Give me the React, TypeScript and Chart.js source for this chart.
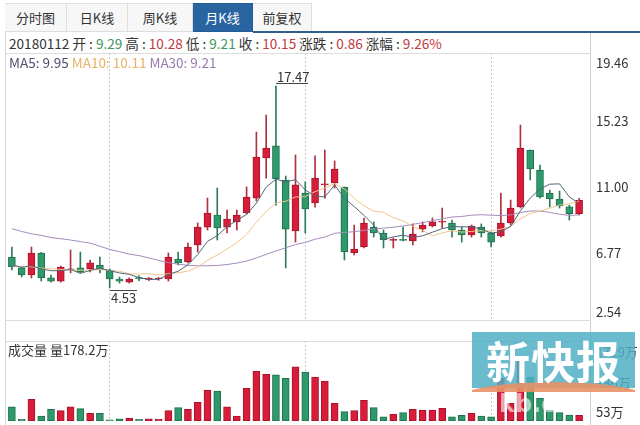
import React, { useEffect, useRef } from 'react';
import { Chart, registerables } from 'chart.js';

Chart.register(...registerables);

const FONT = '"Noto Sans CJK SC", "Noto Sans", sans-serif';

const months = [
  '2013-03', '2013-04', '2013-05', '2013-06', '2013-07', '2013-08', '2013-09', '2013-10', '2013-11', '2013-12',
  '2014-01', '2014-02', '2014-03', '2014-04', '2014-05', '2014-06', '2014-07', '2014-08', '2014-09', '2014-10', '2014-11', '2014-12',
  '2015-01', '2015-02', '2015-03', '2015-04', '2015-05', '2015-06', '2015-07', '2015-08', '2015-09', '2015-10', '2015-11', '2015-12',
  '2016-01', '2016-02', '2016-03', '2016-04', '2016-05', '2016-06', '2016-07', '2016-08', '2016-09', '2016-10', '2016-11', '2016-12',
  '2017-01', '2017-02', '2017-03', '2017-04', '2017-05', '2017-06', '2017-07', '2017-08', '2017-09', '2017-10', '2017-11', '2017-12',
  '2018-01',
];

const opens = [
  6.51, 5.81, 5.36, 6.77, 5.17, 4.97, 5.68, 5.81, 5.75, 6.0,
  5.68, 5.1, 4.9, 5.2, 5.08, 5.1, 5.1, 6.38, 6.2, 7.28,
  8.43, 9.2, 8.43, 8.76, 9.33, 10.29, 12.86, 13.63, 11.45, 8.18,
  10.61, 9.97, 11.13, 11.26, 11.0, 6.77, 7.15, 8.43, 8.05, 7.58,
  7.62, 7.54, 8.3, 8.5, 8.74, 8.69, 8.24, 7.92, 8.43, 8.05,
  7.86, 8.69, 9.72, 13.37, 12.09, 10.61, 10.23, 9.72, 9.29,
];
const highs = [
  7.15, 5.87, 7.15, 6.8, 5.36, 5.93, 6.96, 6.83, 6.32, 6.51,
  5.75, 5.23, 5.17, 5.3, 5.2, 5.2, 6.77, 6.83, 7.41, 8.69,
  10.29, 10.93, 9.52, 9.52, 11.0, 14.52, 15.61, 17.47, 11.7, 13.05,
  11.32, 12.99, 13.37, 12.67, 11.0, 8.56, 9.01, 8.76, 8.24, 7.73,
  8.43, 8.63, 8.76, 9.01, 9.65, 8.88, 8.43, 8.56, 8.63, 8.12,
  10.61, 10.16, 14.97, 13.37, 12.41, 10.8, 10.74, 9.84, 10.28,
];
const lows = [
  5.68, 5.23, 5.17, 4.97, 4.9, 4.9, 5.49, 5.49, 5.55, 5.49,
  4.53, 4.84, 4.84, 5.0, 5.0, 5.02, 4.97, 6.0, 6.13, 6.83,
  8.24, 7.6, 8.05, 8.24, 9.27, 10.1, 11.57, 9.84, 5.81, 7.47,
  8.05, 9.71, 10.29, 10.93, 6.32, 6.64, 7.09, 7.79, 7.09, 7.09,
  7.54, 7.28, 8.12, 8.43, 8.37, 7.79, 7.47, 7.79, 7.79, 7.15,
  7.79, 8.56, 9.65, 11.45, 10.29, 9.72, 9.65, 8.88, 9.21,
];
const closes = [
  5.87, 5.36, 6.77, 5.17, 4.97, 5.87, 5.75, 5.55, 6.13, 5.68,
  5.1, 4.97, 5.1, 5.1, 5.12, 5.15, 6.51, 6.13, 7.15, 8.43,
  9.33, 8.37, 8.95, 9.2, 10.36, 12.92, 13.5, 11.51, 8.3, 11.13,
  9.59, 11.57, 11.2, 12.15, 6.83, 7.02, 8.69, 8.05, 7.6, 7.62,
  7.58, 7.98, 8.56, 8.76, 8.78, 8.24, 7.92, 8.5, 8.05, 7.47,
  8.69, 9.65, 13.5, 12.15, 10.36, 10.23, 9.78, 9.29, 10.15,
];

const ma5 = [
  6.0, 5.85, 5.95, 5.75, 5.63, 5.63, 5.71, 5.46, 5.65, 5.8,
  5.64, 5.49, 5.4, 5.19, 5.07, 5.08, 5.39, 5.6, 6.01, 6.67,
  7.51, 7.88, 8.45, 8.86, 9.24, 9.96, 10.99, 11.5, 11.32, 11.47,
  10.81, 10.42, 10.36, 11.13, 10.27, 9.75, 9.18, 8.55, 7.64, 7.8,
  7.91, 7.77, 7.87, 8.1, 8.33, 8.46, 8.45, 8.44, 8.3, 8.04,
  8.13, 8.47, 9.47, 10.29, 10.87, 11.18, 11.2, 10.36, 9.95,
];
const ma10 = [
  5.95, 5.9, 5.88, 5.8, 5.75, 5.72, 5.7, 5.66, 5.68, 5.71,
  5.64, 5.6, 5.43, 5.42, 5.44, 5.36, 5.44, 5.5, 5.6, 5.87,
  6.3, 6.64, 7.02, 7.43, 7.96, 8.74, 9.43, 9.97, 10.09, 10.36,
  10.38, 10.7, 10.93, 11.22, 10.87, 10.28, 9.8, 9.45, 9.38, 9.03,
  8.83, 8.47, 8.21, 7.87, 8.06, 8.19, 8.11, 8.15, 8.2, 8.18,
  8.3, 8.46, 8.96, 9.3, 9.45, 9.65, 9.84, 9.92, 10.11,
];
const ma30 = [
  8.33, 8.15, 8.0, 7.9, 7.76, 7.68, 7.6, 7.5, 7.4, 7.2,
  7.0, 6.85, 6.7, 6.6, 6.45, 6.3, 6.15, 6.05, 5.98, 5.95,
  5.95, 5.97, 6.03, 6.12, 6.25, 6.45, 6.68, 6.9, 7.1, 7.31,
  7.44, 7.65, 7.79, 8.03, 8.09, 8.13, 8.22, 8.31, 8.36, 8.42,
  8.5, 8.6, 8.72, 8.84, 8.96, 9.07, 9.11, 9.19, 9.22, 9.19,
  9.17, 9.21, 9.36, 9.46, 9.46, 9.37, 9.25, 9.18, 9.21,
];

// 成交量, 万
const volumes = [
  366, 90, 529, 163, 309, 279, 366, 323, 222, 222,
  80, 103, 119, 90, 103, 97, 279, 345, 309, 463,
  733, 711, 366, 163, 770, 1149, 1077, 1068, 989, 1243,
  1127, 1018, 930, 441, 257, 279, 507, 345, 147, 200,
  235, 309, 294, 294, 331, 147, 178, 222, 163, 147,
  995, 441, 1427, 1018, 550, 294, 235, 185, 178.2,
];

const priceTicks = [2.54, 6.77, 11.0, 15.23, 19.46];
const volumeTicks = [53, 886, 1719];
const separatorMonths = ['2014-01', '2015-09', '2017-04'];
const tabs = ['分时图', '日K线', '周K线', '月K线', '前复权'];
const tabEdges = [5, 67, 128, 193, 253, 312];
const activeTab = 3;
const lastDate = '20180112';

const RED = '#d81c3a';
const RED_BORDER = '#a5142c';
const RED_WICK = '#b0303f';
const GREEN = '#2e9a6b';
const GREEN_BORDER = '#1f6e4d';
const GREEN_WICK = '#2f7a5a';
const MA5_C = '#4f6678';
const MA10_C = '#efc58a';
const MA30_C = '#a58bbb';

const up = closes.map((c, i) => c >= opens[i]);

function clampLabels(topGap: number, bottomGap: number) {
  return {
    id: 'clampLabels',
    beforeDraw(chart: any) {
      const s = chart.scales.y;
      if (!s || !s.getLabelItems) return;
      const items = s.getLabelItems();
      const { top, bottom } = chart.chartArea;
      for (const it of items) {
        const t = it && it.options && it.options.translation;
        if (t) t[1] = Math.min(Math.max(t[1], top + topGap), bottom - bottomGap);
      }
    },
  };
}

const extremesPlugin = {
  id: 'extremes',
  afterDatasetsDraw(chart: any) {
    const { ctx } = chart;
    const xs = chart.scales.x;
    const ys = chart.scales.y;
    const hi = Math.max(...highs);
    const lo = Math.min(...lows);
    const hiIdx = highs.indexOf(hi);
    const loIdx = lows.indexOf(lo);
    ctx.save();
    ctx.strokeStyle = '#444';
    ctx.fillStyle = '#333';
    ctx.lineWidth = 1;
    ctx.font = `13px ${FONT}`;
    ctx.textAlign = 'left';
    const hx = Math.round(xs.getPixelForValue(hiIdx));
    const hy = Math.round(ys.getPixelForValue(hi)) - 2.5;
    ctx.beginPath();
    ctx.moveTo(hx, hy);
    ctx.lineTo(hx + 32, hy);
    ctx.stroke();
    ctx.textBaseline = 'bottom';
    ctx.fillText(hi.toFixed(2), hx + 1, hy);
    const lx = Math.round(xs.getPixelForValue(loIdx));
    const ly = Math.round(ys.getPixelForValue(lo)) + 2.5;
    ctx.beginPath();
    ctx.moveTo(lx, ly);
    ctx.lineTo(lx + 27, ly);
    ctx.stroke();
    ctx.textBaseline = 'top';
    ctx.fillText(lo.toFixed(2), lx + 1, ly + 1);
    ctx.restore();
  },
};

function xAxis() {
  return {
    display: true,
    offset: true,
    ticks: { display: false, autoSkip: false },
    grid: {
      drawTicks: false,
      offset: false,
      lineWidth: 1,
      color: (c: any) => (separatorMonths.includes(months[c.index]) ? '#c9c9c9' : 'rgba(0,0,0,0)'),
    },
    border: { display: false, dash: [2, 2] },
    afterFit: (s: any) => {
      s.height = 0;
      s.paddingLeft = 0;
      s.paddingRight = 0;
    },
  };
}

function yFit(s: any) {
  s.width = 56;
  s.paddingTop = 0;
  s.paddingBottom = 0;
}

export default function App() {
  const priceRef = useRef<HTMLCanvasElement>(null);
  const volRef = useRef<HTMLCanvasElement>(null);

  useEffect(() => {
    const priceChart = new Chart(priceRef.current as HTMLCanvasElement, {
      type: 'bar',
      data: {
        labels: months,
        datasets: [
          { type: 'line', label: 'MA5', data: ma5, borderColor: MA5_C, borderWidth: 1, pointRadius: 0, tension: 0, order: 0 } as any,
          { type: 'line', label: 'MA10', data: ma10, borderColor: MA10_C, borderWidth: 1, pointRadius: 0, tension: 0, order: 1 } as any,
          { type: 'line', label: 'MA30', data: ma30, borderColor: MA30_C, borderWidth: 1, pointRadius: 0, tension: 0, order: 2 } as any,
          {
            type: 'bar',
            label: 'body',
            data: opens.map((o, i) => [o, closes[i]]),
            backgroundColor: up.map((u) => (u ? RED : GREEN)),
            borderColor: up.map((u) => (u ? RED_BORDER : GREEN_BORDER)),
            borderWidth: 1,
            borderSkipped: false,
            barThickness: 7,
            minBarLength: 1,
            grouped: false,
            order: 3,
          } as any,
          {
            type: 'bar',
            label: 'wick',
            data: lows.map((l, i) => [l, highs[i]]),
            backgroundColor: up.map((u) => (u ? RED_WICK : GREEN_WICK)),
            borderWidth: 0,
            barThickness: 1,
            grouped: false,
            order: 4,
          } as any,
        ],
      },
      options: {
        animation: false,
        responsive: false,
        maintainAspectRatio: false,
        events: [],
        layout: { padding: { left: 7, right: 0, top: 0, bottom: 0 } },
        plugins: { legend: { display: false }, tooltip: { enabled: false } },
        scales: {
          x: xAxis() as any,
          y: {
            position: 'right',
            min: 2.473,
            max: 19.588,
            grid: { display: false, drawTicks: false },
            border: { display: false },
            afterBuildTicks: (s: any) => {
              s.ticks = priceTicks.map((v) => ({ value: v }));
            },
            afterFit: yFit,
            ticks: {
              padding: 12,
              color: '#333',
              font: { family: FONT, size: 13 },
              callback: (v: any) => Number(v).toFixed(2),
            },
          } as any,
        },
      },
      plugins: [clampLabels(10, 8), extremesPlugin],
    });

    const volChart = new Chart(volRef.current as HTMLCanvasElement, {
      type: 'bar',
      data: {
        labels: months,
        datasets: [
          {
            label: '成交量',
            data: volumes,
            base: 53,
            backgroundColor: up.map((u) => (u ? RED : GREEN)),
            borderColor: up.map((u) => (u ? RED_BORDER : GREEN_BORDER)),
            borderWidth: 1,
            borderSkipped: false,
            barThickness: 7,
            minBarLength: 1,
          } as any,
        ],
      },
      options: {
        animation: false,
        responsive: false,
        maintainAspectRatio: false,
        events: [],
        layout: { padding: { left: 7, right: 0, top: 0, bottom: 4 } },
        plugins: { legend: { display: false }, tooltip: { enabled: false } },
        scales: {
          x: xAxis() as any,
          y: {
            position: 'right',
            min: 53,
            max: 1807,
            grid: { display: false, drawTicks: false },
            border: { display: false },
            afterBuildTicks: (s: any) => {
              s.ticks = volumeTicks.map((v) => ({ value: v }));
            },
            afterFit: yFit,
            ticks: {
              padding: 12,
              color: '#333',
              font: { family: FONT, size: 13 },
              callback: (v: any) => `${v}万`,
            },
          } as any,
        },
      },
      plugins: [clampLabels(11, 9)],
    });

    return () => {
      priceChart.destroy();
      volChart.destroy();
    };
  }, []);

  const n = closes.length;
  const change = closes[n - 1] - closes[n - 2];
  const pct = (change / closes[n - 2]) * 100;
  const green = '#3f9660';
  const red = '#c0393f';
  const dark = '#333';

  const line = (style: React.CSSProperties) => <div style={{ position: 'absolute', ...style }} />;

  return (
    <div
      style={{
        position: 'fixed',
        left: 0,
        top: 0,
        width: 640,
        height: 425,
        background: '#fff',
        overflow: 'hidden',
        fontFamily: FONT,
        color: dark,
      }}
    >
      {tabs.map((t, i) => (
        <div
          key={t}
          style={{
            position: 'absolute',
            left: tabEdges[i],
            top: 3,
            width: tabEdges[i + 1] - tabEdges[i],
            height: 29,
            boxSizing: 'border-box',
            border: i === activeTab ? '1px solid #235d96' : '1px solid #dedede',
            borderLeft: i === 0 || i === activeTab ? undefined : 'none',
            background: i === activeTab ? '#2864a0' : '#f7f7f7',
            color: i === activeTab ? '#fff' : '#333',
            fontSize: 13,
            lineHeight: '27px',
            textAlign: 'center',
          }}
        >
          {t}
        </div>
      ))}
      {line({ left: tabEdges[tabEdges.length - 2], top: 31, width: 640 - tabEdges[tabEdges.length - 2], height: 2, background: '#2f5f8c' })}
      {line({ left: 5, top: 32, width: 1, height: 393, background: '#d6d6d6' })}
      {line({ left: 590, top: 33, width: 1, height: 392, background: '#cfcfcf' })}
      {line({ left: 5, top: 53, width: 586, height: 1, background: '#dcdcdc' })}
      {line({ left: 5, top: 320, width: 586, height: 1, background: '#dcdcdc' })}
      {line({ left: 5, top: 341, width: 586, height: 1, background: '#dcdcdc' })}

      <div style={{ position: 'absolute', left: 9, top: 33, height: 20, lineHeight: '20px', fontSize: 13.6, whiteSpace: 'nowrap' }}>
        {lastDate} 开 : <span style={{ color: green }}>{opens[n - 1].toFixed(2)}</span> 高 :{' '}
        <span style={{ color: red }}>{highs[n - 1].toFixed(2)}</span> 低 :{' '}
        <span style={{ color: green }}>{lows[n - 1].toFixed(2)}</span> 收 :{' '}
        <span style={{ color: red }}>{closes[n - 1].toFixed(2)}</span> 涨跌 :{' '}
        <span style={{ color: red }}>{change.toFixed(2)}</span> 涨幅 :{' '}
        <span style={{ color: red }}>{pct.toFixed(2)}%</span>
      </div>

      <canvas ref={priceRef} width={640} height={267} style={{ position: 'absolute', left: 0, top: 53, width: 640, height: 267 }} />
      <canvas ref={volRef} width={640} height={84} style={{ position: 'absolute', left: 0, top: 341, width: 640, height: 84 }} />

      <div style={{ position: 'absolute', left: 9, top: 53, height: 18, lineHeight: '18px', fontSize: 13.5, whiteSpace: 'nowrap' }}>
        <span style={{ color: '#514f6c' }}>MA5: {ma5[n - 1].toFixed(2)}</span>{' '}
        <span style={{ color: '#e6b263' }}>MA10: {ma10[n - 1].toFixed(2)}</span>{' '}
        <span style={{ color: '#9a7bb0' }}>MA30: {ma30[n - 1].toFixed(2)}</span>
      </div>

      <div style={{ position: 'absolute', left: 8, top: 341, height: 18, lineHeight: '18px', fontSize: 13, whiteSpace: 'nowrap' }}>
        成交量 量{volumes[n - 1]}万
      </div>

      <div
        style={{
          position: 'absolute',
          left: 472,
          top: 332,
          width: 163,
          height: 60,
          overflow: 'hidden',
        }}
      >
        <div style={{ position: 'absolute', left: 0, top: 0, width: 163, height: 56, background: 'rgba(80,175,196,0.85)' }} />
        <div
          style={{
            position: 'absolute',
            left: -20,
            width: 203,
            top: 50,
            height: 40,
            borderRadius: '50%',
            background: 'rgba(233,146,104,0.9)',
          }}
        />
        <div
          style={{
            position: 'absolute',
            left: 0,
            width: 163,
            top: 0,
            height: 56,
            textAlign: 'center',
            color: '#fff',
            fontSize: 44,
            lineHeight: '56px',
            fontWeight: 700,
            letterSpacing: 1,
          }}
        >
          新快报
        </div>
      </div>
      <div
        style={{
          position: 'absolute',
          left: 499,
          top: 390,
          fontSize: 24,
          fontWeight: 700,
          color: 'rgba(255,255,255,0.6)',
          fontFamily: '"DejaVu Sans", sans-serif',
          lineHeight: '28px',
        }}
      >
        kb.c
      </div>
    </div>
  );
}
